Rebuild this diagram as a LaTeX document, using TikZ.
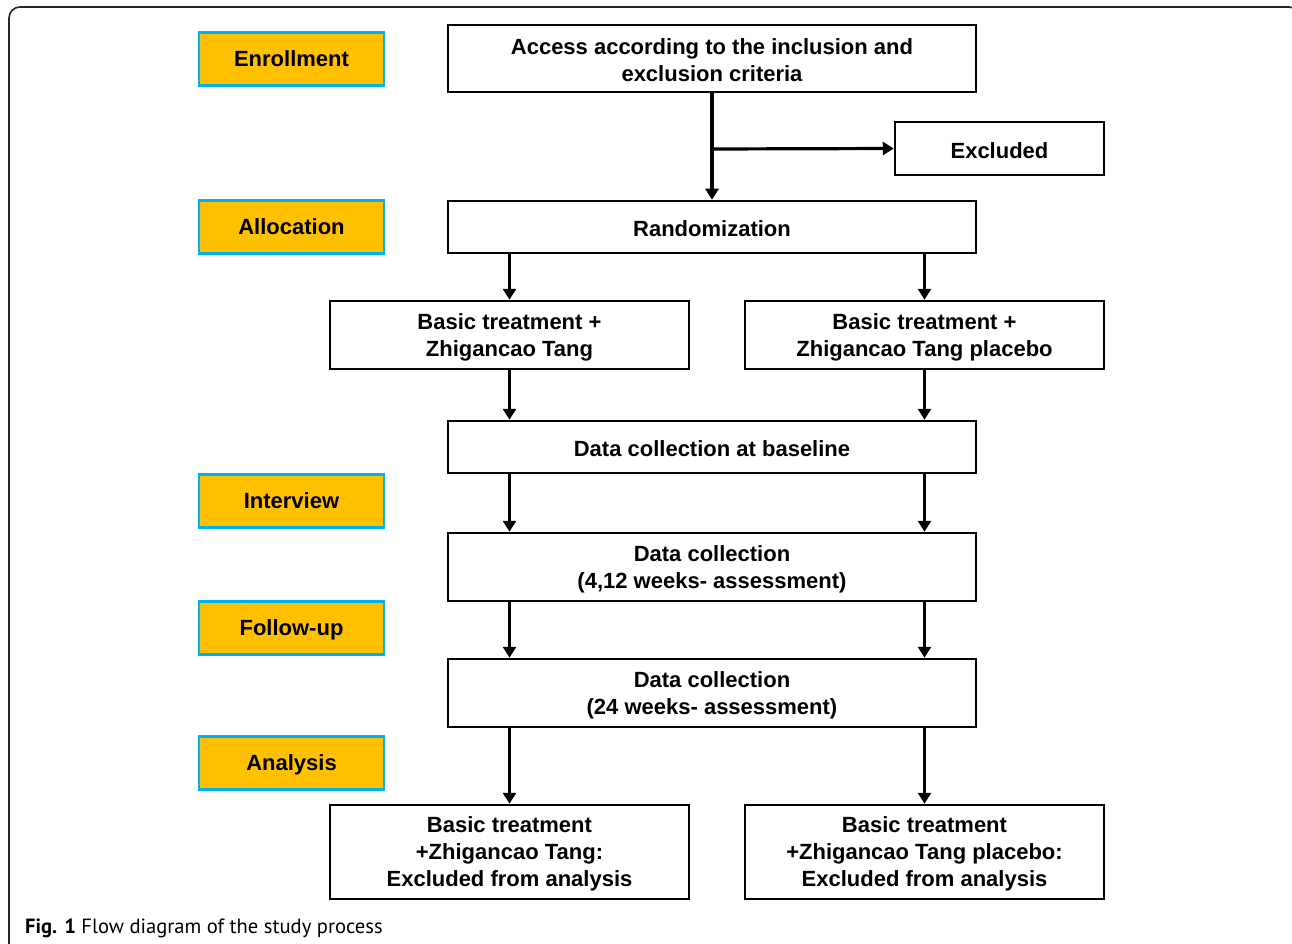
\documentclass[tikz,border=0pt]{standalone}
\usepackage{fontspec}
\setmainfont{Liberation Sans}
\newfontfamily\capfont{PT Sans}
\usetikzlibrary{arrows.meta}
\definecolor{labfill}{HTML}{FFC000}
\definecolor{labedge}{HTML}{00B0F0}
\tikzset{
  stagebox/.style={draw=labedge, fill=labfill, line width=2.5pt, minimum width=185pt, minimum height=53pt, inner sep=0pt, text height=15pt, text depth=0pt, yshift=-0.5pt, font=\fontsize{22}{27}\selectfont\bfseries},
  flowtext/.style={inner sep=0pt, align=center, yshift=-2pt, font=\fontsize{22}{27}\selectfont\bfseries},
  flowbox/.style={draw=black, line width=2.5pt, inner sep=0pt},
  txt/.style={label={[flowtext]center:{#1}}},
  flowarrow/.style={draw=black, line width=3.2pt, -{Triangle[length=11pt,width=13pt]}},
}
\begin{document}
\begin{tikzpicture}[x=1pt,y=-1pt]
\useasboundingbox (0,0) rectangle (1292,944);
\begin{scope}
\clip (0,0) rectangle (1292,944);
\draw[line width=1.6pt, draw=black!85, rounded corners=11pt] (9,980) -- (9,7) -- (1300,7) -- (1300,980);
\end{scope}
% stage labels
\node[stagebox] (enr) at (291.5,58.5) {Enrollment};
\node[stagebox] (alloc) at (291.5,226.5) {Allocation};
\node[stagebox] (interv) at (291.5,500.5) {Interview};
\node[stagebox] (follow) at (291.5,627.5) {Follow-up};
\node[stagebox] (anal) at (291.5,762.5) {Analysis};
% flow boxes
\node[flowbox, minimum width=528pt, minimum height=67pt, txt={Access according to the inclusion and\\exclusion criteria}] (access) at (712,58.5) {};
\node[flowbox, minimum width=209pt, minimum height=53pt, txt={Excluded}] (excl) at (999.5,148.5) {};
\node[flowbox, minimum width=528pt, minimum height=52pt, txt={Randomization}] (rand) at (712,227) {};
\node[flowbox, minimum width=359pt, minimum height=68pt, txt={Basic treatment +\\Zhigancao Tang}] (bt1) at (509.5,335) {};
\node[flowbox, minimum width=359pt, minimum height=68pt, txt={Basic treatment +\\Zhigancao Tang placebo}] (bt2) at (924.5,335) {};
\node[flowbox, minimum width=528pt, minimum height=52pt, txt={Data collection at baseline}] (base) at (712,447) {};
\node[flowbox, minimum width=528pt, minimum height=68pt, txt={Data collection\\(4,12 weeks- assessment)}] (dc1) at (712,567) {};
\node[flowbox, minimum width=528pt, minimum height=68pt, txt={Data collection\\(24 weeks- assessment)}] (dc2) at (712,693) {};
\node[flowbox, minimum width=359pt, minimum height=94pt, txt={Basic treatment\\+Zhigancao Tang:\\Excluded from analysis}] (ex1) at (509.5,852) {};
\node[flowbox, minimum width=359pt, minimum height=94pt, txt={Basic treatment\\+Zhigancao Tang placebo:\\Excluded from analysis}] (ex2) at (924.5,852) {};
% connectors
\coordinate (branch) at (712,149);
\draw[flowarrow] (access.south) -- (rand.north);
\draw[flowarrow] (branch) -- (excl.west);
\draw[flowarrow] (rand.south -| bt1.north) -- (bt1.north);
\draw[flowarrow] (rand.south -| bt2.north) -- (bt2.north);
\draw[flowarrow] (bt1.south) -- (bt1.south |- base.north);
\draw[flowarrow] (bt2.south) -- (bt2.south |- base.north);
\draw[flowarrow] (base.south -| bt1.south) -- (bt1.south |- dc1.north);
\draw[flowarrow] (base.south -| bt2.south) -- (bt2.south |- dc1.north);
\draw[flowarrow] (dc1.south -| bt1.south) -- (bt1.south |- dc2.north);
\draw[flowarrow] (dc1.south -| bt2.south) -- (bt2.south |- dc2.north);
\draw[flowarrow] (dc2.south -| ex1.north) -- (ex1.north);
\draw[flowarrow] (dc2.south -| ex2.north) -- (ex2.north);
% caption
\node[anchor=base west, inner sep=0pt, font=\capfont\fontsize{20.6}{24}\selectfont] (cap) at (25,933) {\textbf{Fig. 1} Flow diagram of the study process};
\end{tikzpicture}
\end{document}
